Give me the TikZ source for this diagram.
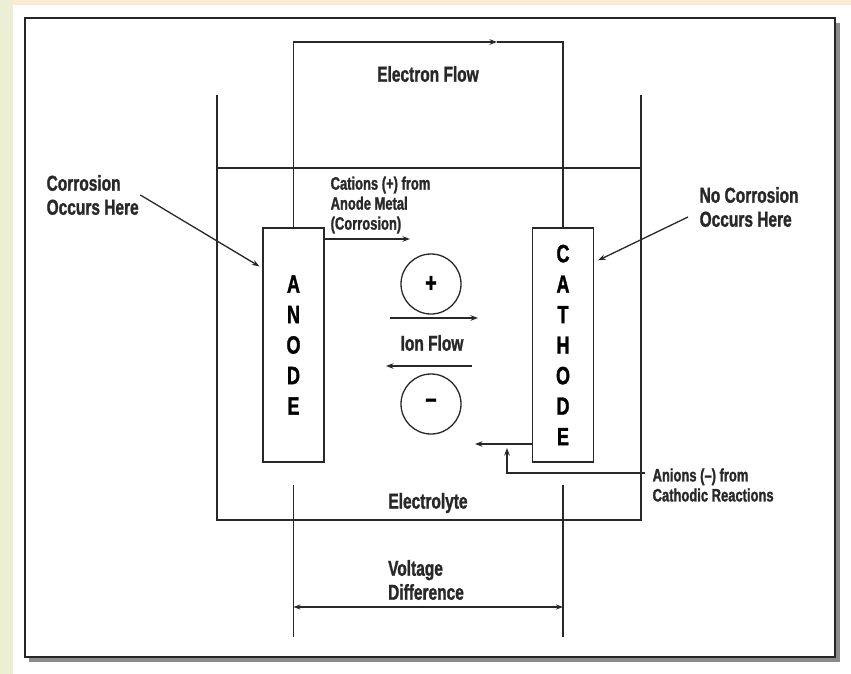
\documentclass[tikz,border=0pt]{standalone}
\usepackage{fontspec}
\setmainfont{Liberation Sans}[FakeStretch=0.72, BoldFeatures={FakeBold=1.3}]
\usetikzlibrary{arrows.meta, positioning, calc}
\definecolor{PageGreen}{RGB}{236, 239, 212}
\definecolor{PagePeach}{RGB}{252, 235, 211}
\definecolor{InkGray}{RGB}{40, 40, 40}

\begin{document}
\begin{tikzpicture}[x=1pt,y=-1pt,
    line width=1.3pt, draw=InkGray,
    arr/.style={-{Stealth[length=7.5pt,width=5.5pt]}},
    electrode/.style={draw=InkGray, rectangle, minimum width=61pt, minimum height=234pt,
      align=center, font=\fontsize{25}{30.5}\selectfont\bfseries},
    ion/.style={draw=InkGray, circle, minimum size=60pt, font=\fontsize{27}{28}\selectfont\bfseries},
    lbl/.style={text=InkGray, font=\fontsize{21.5}{24}\selectfont\bfseries, align=left, inner sep=1pt},
    small/.style={text=InkGray, font=\fontsize{18}{20}\selectfont\bfseries, align=left, inner sep=1pt}]
  \path[use as bounding box] (0,0) rectangle (851,674);
  % page and frame
  \fill[white] (0,0) rectangle (851,674);
  \fill[PageGreen] (0,0) rectangle (13,674);
  \fill[PagePeach] (13,0) rectangle (851,5);
  \fill[black!45] (29,23) rectangle (840,662);
  \draw[line width=2.4pt, fill=white, draw=black!85] (25,18) rectangle (835,657);

  % beaker and electrolyte level
  \draw (217,95) -- (217,520) -- (641,520) -- (641,95);
  \draw (217,168) -- (641,168);

  % electrodes
  \node[electrode] (anode) at (293.5,345) {A\\N\\O\\D\\E};
  \node[electrode] (cathode) at (563,345) {C\\A\\T\\H\\O\\D\\E};

  % external wire
  \coordinate (etip) at (497,42);
  \draw[arr] (anode.north) |- (etip);
  \draw (etip) -| (cathode.north);
  \node[lbl] (eflow) at (428,74) {Electron Flow};

  % ions
  \node[ion] (cation) at (431,284) {+};
  \node[ion] (anion) at (431,404) {\char"2212};
  \node[lbl] (ionflow) at (432,343) {Ion Flow};
  \coordinate (ionR) at (390,318);
  \coordinate (ionL) at (472,366);
  \draw[arr] (ionR) -- +(88,0);
  \draw[arr] (ionL) -- +(-86,0);

  % labels with pointers
  \node[lbl, anchor=west] (corr) at (45,195) {Corrosion\\Occurs Here};
  \draw[arr] (corr.east) -- ($(anode.north west)+(-3,39)$);
  \node[lbl, anchor=west] (nocorr) at (698,207) {No Corrosion\\Occurs Here};
  \draw[arr] ($(nocorr.west)+(-10,10)$) -- ($(cathode.north east)+(4,33)$);

  \node[small, anchor=west] (cations) at (329,205) {Cations (+) from\\Anode Metal\\(Corrosion)};
  \draw[arr] (anode.east |- 0,239) -- (410,239);

  \node[small, anchor=west] (anions) at (651,485) {Anions (--) from\\Cathodic Reactions};
  \coordinate (ajoin) at (507,473);
  \draw[arr] (cathode.west |- 0,444) -- (475,444);
  \draw[arr] ($(anions.west)+(-6,-12)$) -- (ajoin) -- (507,448);

  % electrolyte and voltage
  \node[lbl] (electrolyte) at (428,503) {Electrolyte};
  \draw (anode.center |- 0,485) -- (anode.center |- 0,637);
  \draw (cathode.center |- 0,485) -- (cathode.center |- 0,637);
  \coordinate (vL) at (293.5,607);
  \coordinate (vR) at (563,607);
  \draw[{Stealth[length=7pt,width=5pt]}-{Stealth[length=7pt,width=5pt]}] (vL) -- (vR);
  \node[lbl] (volt) at (426,580) {Voltage\\Difference};
\end{tikzpicture}
\end{document}
